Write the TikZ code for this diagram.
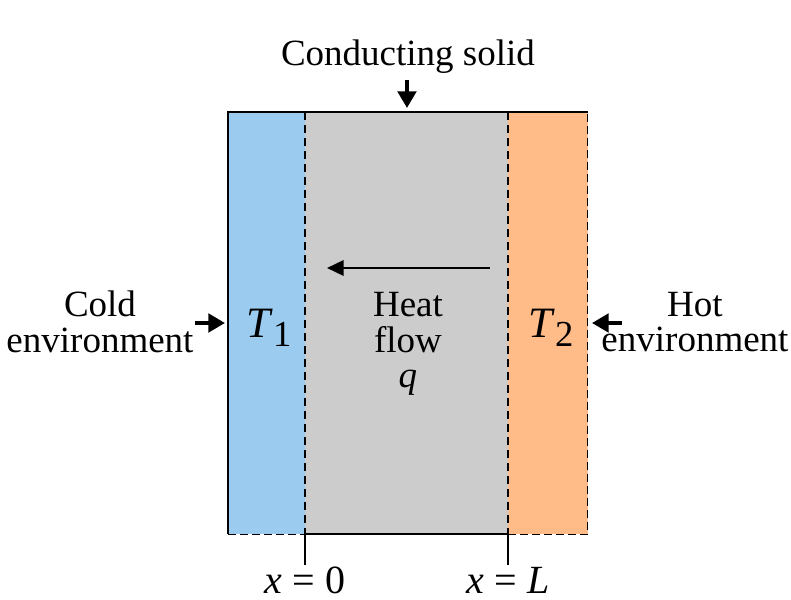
\documentclass[tikz,border=0pt]{standalone}
\usepackage{fontspec}
\setmainfont{Liberation Serif}
\usepackage{tikz}
\usetikzlibrary{calc,arrows.meta,positioning}
\definecolor{coldBlue}{RGB}{155,204,240}
\definecolor{hotOrange}{RGB}{255,187,136}
\definecolor{solidGray}{RGB}{204,204,204}
\tikzset{
  lbl/.style={font=\fontsize{11.1}{10.6}\selectfont, align=center, inner sep=0pt},
  bigarrow/.style={line width=1.2pt, -{Triangle[length=5pt,width=5.5pt]}},
}
\newcommand{\Tsub}[1]{\fontsize{13}{13}\selectfont\textit{T}\raisebox{-0.45ex}{\fontsize{11}{11}\selectfont #1}}
\begin{document}
\begin{tikzpicture}[x=0.3pt,y=-0.3pt]
\useasboundingbox (0,0) rectangle (791,600);

% regions of the slab
\fill[coldBlue] (228,112) rectangle (305,534);
\fill[solidGray] (305,112) rectangle (508,534);
\fill[hotOrange] (508,112) rectangle (588,534);

% outline
\draw[line width=0.35pt] (228,534) -- (228,112) -- (588,112);
\draw[line width=0.35pt] (305,534) -- (508,534);
\draw[line width=0.3pt, dash pattern=on 2.4pt off 1.2pt] (228,534) -- (305,534);
\draw[line width=0.3pt, dash pattern=on 2.4pt off 1.2pt] (508,534) -- (588,534) -- (588,112);
\draw[line width=0.35pt, dash pattern=on 2.4pt off 1.5pt] (305,112) -- (305,534);
\draw[line width=0.35pt, dash pattern=on 2.4pt off 1.5pt] (508,112) -- (508,534);

% boundary ticks
\coordinate (b0) at (305,534);
\coordinate (bL) at (508,534);
\draw[line width=0.35pt] (b0) -- ++(0,31) coordinate (t0);
\draw[line width=0.35pt] (bL) -- ++(0,31) coordinate (tL);
\node[lbl, font=\fontsize{12}{12}\selectfont] (x0) at (305,580) {\textit{x} = 0};
\node[lbl, font=\fontsize{12}{12}\selectfont] (xL) at (508,580) {\textit{x} = \textit{L}};

% labels
\node[lbl] (solid) at (408,57) {Conducting solid};
\node[lbl] (cold) at (100,322) {Cold\\environment};
\node[lbl] (hot) at (695,322) {Hot\\environment};
\node[lbl] (T1) at (269,328) {\Tsub{1}};
\node[lbl] (T2) at (551,328) {\Tsub{2}};
\node[lbl] (heat) at (408,344) {Heat\\flow\\\textit{q}};

% arrows
\coordinate (topA) at (407,80);
\coordinate (topB) at (407,108);
\draw[bigarrow] (topA) -- (topB);
\coordinate (leftA) at (195,323);
\coordinate (leftB) at (225,323);
\draw[bigarrow] (leftA) -- (leftB);
\coordinate (rightA) at (622,323);
\coordinate (rightB) at (592,323);
\draw[bigarrow] (rightA) -- (rightB);
\coordinate (flowA) at (490,268);
\coordinate (flowB) at (327,268);
\draw[line width=0.75pt, -{Triangle[length=5pt,width=4.6pt]}] (flowA) -- (flowB);
\end{tikzpicture}
\end{document}
